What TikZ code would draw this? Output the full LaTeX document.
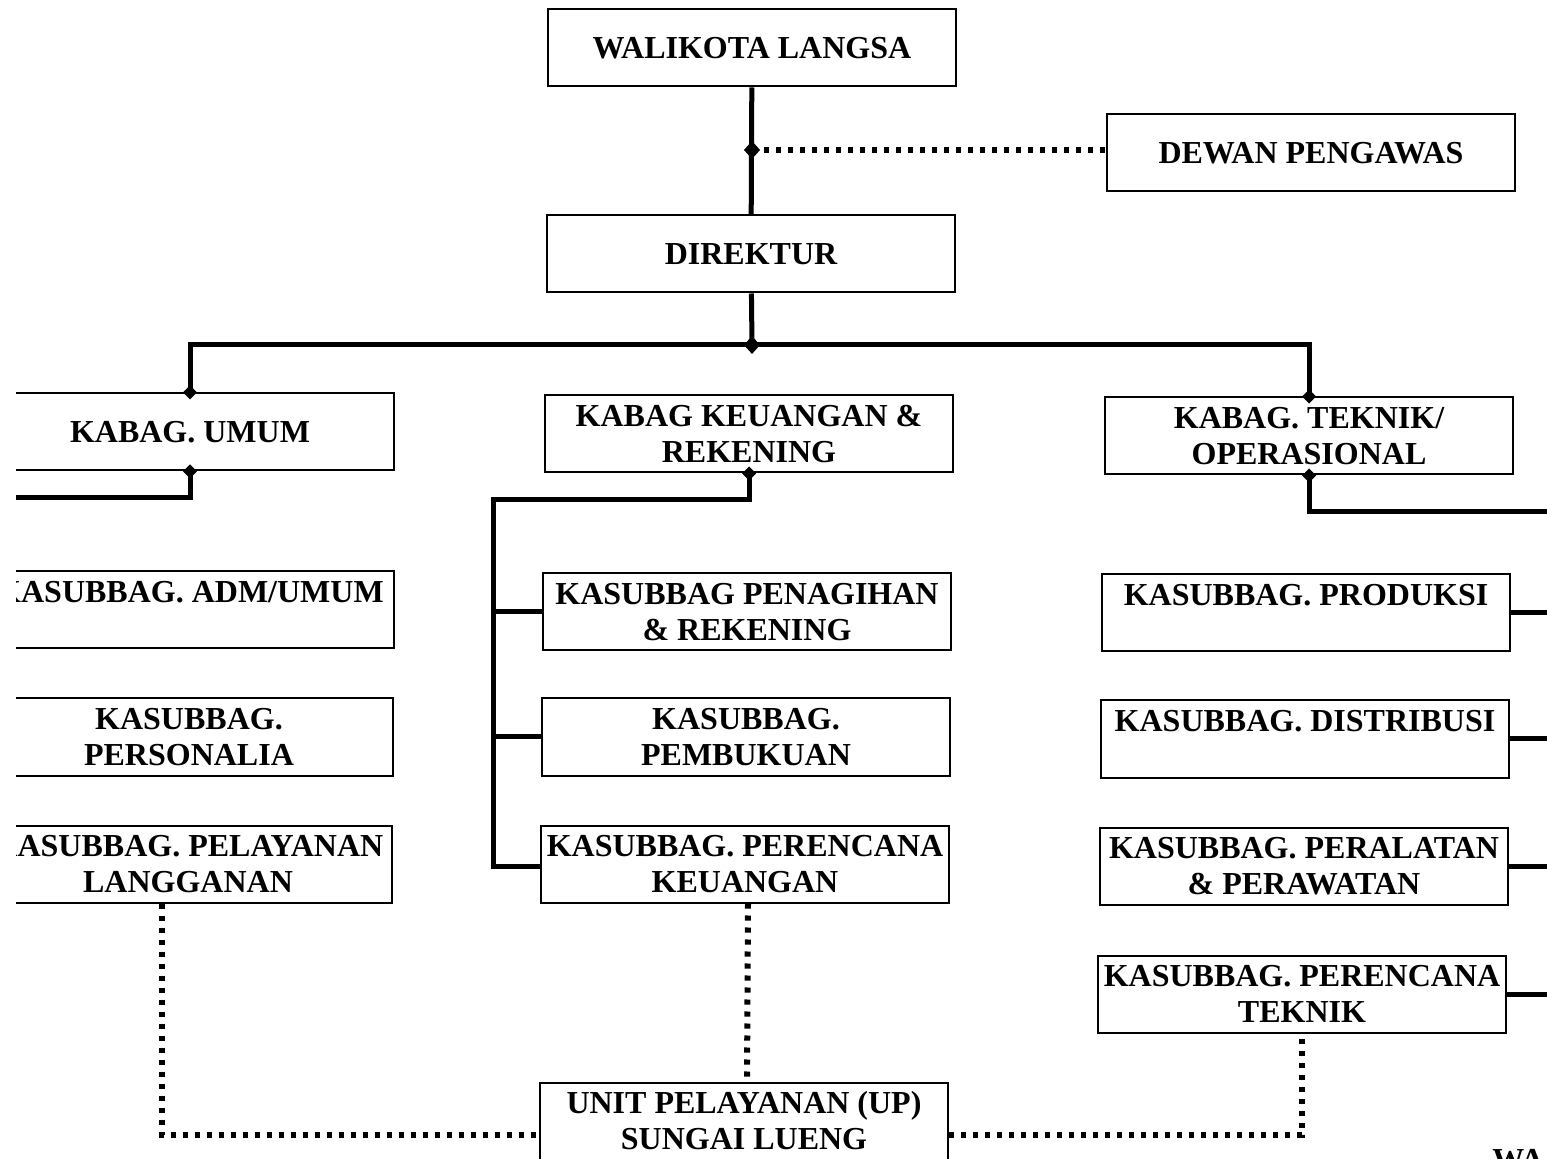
\documentclass[tikz,border=0pt]{standalone}
\usepackage{fontspec}
\setmainfont{Liberation Serif}
\usetikzlibrary{calc}

\tikzset{
    box/.style={draw, line width=1pt, fill=white, minimum width=204pt, minimum height=38.5pt,
        inner sep=1pt, align=center, font=\bfseries\fontsize{16}{18}\selectfont},
    link/.style={line width=2.5pt},
    dotlink/.style={line width=3pt, dash pattern=on 2.6pt off 3.4pt}
}

\begin{document}
\begin{tikzpicture}[x=0.5pt, y=-0.5pt]
            \useasboundingbox (0,0) rectangle (1547,1159);
            \clip (16,0) rectangle (1547,1159);

            % top
            \node[box] (walikota) at (752,48) {WALIKOTA LANGSA};
            \node[box] (dewan) at (1311,153) {DEWAN PENGAWAS};
            \node[box] (direktur) at (751,254) {DIREKTUR};

            % kabag
            \node[box] (umum) at (190,432) {KABAG. UMUM};
            \node[box] (keuangan) at (749,434) {KABAG KEUANGAN \&\\REKENING};
            \node[box] (teknik) at (1309,436) {KABAG. TEKNIK/\\OPERASIONAL};

            % kasubbag, left
            \node[box] (adm) at (190,610) {KASUBBAG. ADM/UMUM\\\mbox{}};
            \node[box] (personalia) at (189,737) {KASUBBAG.\\PERSONALIA};
            \node[box] (pelayanan) at (188,864) {KASUBBAG. PELAYANAN\\LANGGANAN};

            % kasubbag, middle
            \node[box] (penagihan) at (747,612) {KASUBBAG PENAGIHAN\\\& REKENING};
            \node[box] (pembukuan) at (746,737) {KASUBBAG.\\PEMBUKUAN};
            \node[box] (rencanak) at (745,864) {KASUBBAG. PERENCANA\\KEUANGAN};

            % kasubbag, right
            \node[box] (produksi) at (1306,613) {KASUBBAG. PRODUKSI\\\mbox{}};
            \node[box] (distribusi) at (1305,739) {KASUBBAG. DISTRIBUSI\\\mbox{}};
            \node[box] (peralatan) at (1304,866) {KASUBBAG. PERALATAN\\\& PERAWATAN};
            \node[box] (rencanat) at (1302,994) {KASUBBAG. PERENCANA\\TEKNIK};

            % unit
            \node[box] (unit) at (744,1121) {UNIT PELAYANAN (UP)\\SUNGAI LUENG};
            \node[anchor=north west, inner sep=0pt, font=\bfseries\fontsize{16}{18}\selectfont] (wa) at (1492,1149) {WA};

            % junctions
            \coordinate (jdewan) at (752,150);
            \coordinate (bus) at (752,345);
            \coordinate (uleft) at (0,498);
            \coordinate (kspine) at (493,500);
            \coordinate (tspine) at (1560,512);

            % lines
            \draw[link] (walikota) -- (direktur);
            \draw[dotlink] (jdewan) -- (jdewan -| dewan.west);
            \draw[link] (direktur) -- (bus);
            \draw[link] (umum.north) |- (bus) -| (teknik.north);
            \draw[link] (umum.south) |- (uleft);
            \draw[link] (keuangan.south) |- (kspine) |- ([yshift=-1pt]rencanak.west);
            \foreach \n in {penagihan, pembukuan}
                {
                    \draw[link] (kspine |- \n.west) -- (\n.west);
                }
            \draw[link] (teknik.south) |- (tspine);
            \foreach \n in {produksi, distribusi, peralatan, rencanat}
                {
                    \draw[link] (\n.east) -- (\n.east -| tspine);
                }

            \foreach \p in {jdewan, bus}
                {
                    \fill (\p) ++(-8,0) -- ++(8,9) -- ++(8,-9) -- ++(-8,-9) -- cycle;
                }
            \foreach \p in {umum.north, umum.south, teknik.north, teknik.south, keuangan.south}
                {
                    \fill (\p) ++(-7,0) -- ++(7,7) -- ++(7,-7) -- ++(-7,-7) -- cycle;
                }

            % dotted to unit
            \draw[dotlink] ([xshift=-13pt]pelayanan.south) |- ([yshift=-7pt]unit.west);
            \draw[dotlink] ([xshift=1.5pt]rencanak.south) -- ([xshift=1.5pt]unit.north);
            \draw[dotlink] ([yshift=-7pt]unit.east) -| (rencanat.south);

        \end{tikzpicture}
\end{document}
